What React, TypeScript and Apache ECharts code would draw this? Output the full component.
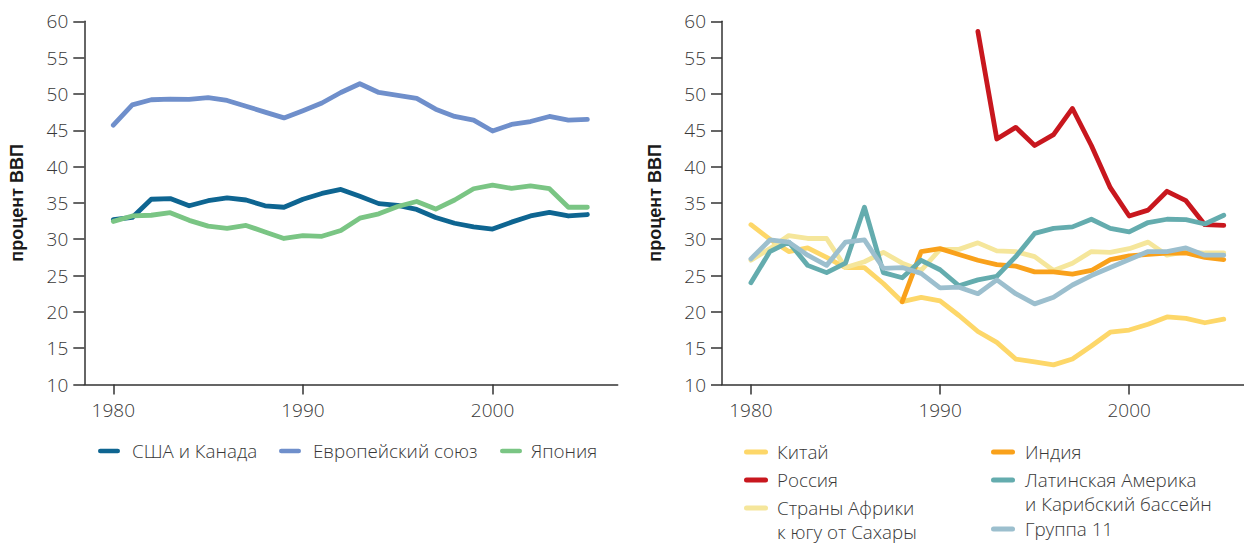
import React, { useEffect, useRef } from "react";
import * as echarts from "echarts";

const YEARS = [1980, 1981, 1982, 1983, 1984, 1985, 1986, 1987, 1988, 1989, 1990, 1991, 1992, 1993, 1994, 1995, 1996, 1997, 1998, 1999, 2000, 2001, 2002, 2003, 2004, 2005];
const X_LABELS = [1980, 1990, 2000];

// Left chart
const USA_CANADA = [32.7, 33.0, 35.5, 35.6, 34.6, 35.3, 35.7, 35.4, 34.6, 34.4, 35.5, 36.3, 36.85, 35.9, 34.9, 34.65, 34.1, 33.0, 32.2, 31.7, 31.4, 32.35, 33.2, 33.7, 33.2, 33.4];
const EU = [45.7, 48.5, 49.2, 49.3, 49.25, 49.5, 49.1, 48.3, 47.5, 46.7, 47.7, 48.75, 50.2, 51.4, 50.2, 49.8, 49.4, 47.9, 46.9, 46.4, 44.9, 45.8, 46.2, 46.9, 46.4, 46.5];
const JAPAN = [32.45, 33.2, 33.3, 33.65, 32.6, 31.8, 31.5, 31.9, 31.0, 30.1, 30.5, 30.4, 31.2, 32.9, 33.5, 34.5, 35.2, 34.15, 35.4, 36.95, 37.45, 37.0, 37.35, 36.95, 34.4, 34.4];

// Right chart
const CHINA = [32.0, 30.0, 28.3, 28.8, 27.5, 26.1, 26.1, 23.9, 21.4, 22.0, 21.5, 19.5, 17.3, 15.8, 13.5, 13.1, 12.7, 13.5, 15.3, 17.2, 17.5, 18.3, 19.3, 19.1, 18.5, 19.0];
const RUSSIA = [null, null, null, null, null, null, null, null, null, null, null, null, 58.6, 43.8, 45.4, 42.9, 44.4, 48.0, 42.9, 37.1, 33.2, 34.0, 36.6, 35.3, 32.0, 31.9];
const AFRICA = [27.1, 28.7, 30.5, 30.1, 30.1, 26.1, 26.9, 28.2, 26.7, 25.7, 28.6, 28.6, 29.5, 28.4, 28.3, 27.6, 25.7, 26.7, 28.3, 28.2, 28.7, 29.6, 27.8, 28.3, 28.1, 28.1];
const INDIA = [null, null, null, null, null, null, null, null, 21.4, 28.3, 28.7, 27.9, 27.1, 26.5, 26.3, 25.5, 25.5, 25.2, 25.7, 27.2, 27.7, 27.9, 28.1, 28.1, 27.5, 27.2];
const LATAM = [24.0, 28.3, 29.6, 26.4, 25.4, 26.7, 34.4, 25.4, 24.7, 27.1, 25.8, 23.6, 24.4, 24.9, 27.6, 30.8, 31.5, 31.7, 32.75, 31.5, 31.0, 32.3, 32.75, 32.7, 32.1, 33.3];
const G11 = [27.3, 29.9, 29.6, 27.8, 26.4, 29.6, 29.9, 26.0, 26.1, 25.3, 23.3, 23.4, 22.5, 24.4, 22.5, 21.1, 22.0, 23.7, 25.0, 26.1, 27.2, 28.3, 28.3, 28.8, 27.8, 27.8];

const Y_NAME = "процент ВВП";

const LEFT_NAMES = ["США и Канада", "Европейский союз", "Япония"];
const LEFT_COLORS = ["#0E6591", "#6F8FCB", "#7AC584"];
const LEFT_DATA = [USA_CANADA, EU, JAPAN];

const RIGHT_NAMES = ["Китай", "Россия", "Страны Африки к югу от Сахары", "Индия", "Латинская Америка и Карибский бассейн", "Группа 11"];
const RIGHT_LABELS = ["Китай", "Россия", "Страны Африки\nк югу от Сахары", "Индия", "Латинская Америка\nи Карибский бассейн", "Группа 11"];
const RIGHT_COLORS = ["#FDD769", "#C8171E", "#F5E69B", "#F9A11B", "#64ACAE", "#9CBFCE"];
const RIGHT_DATA = [CHINA, RUSSIA, AFRICA, INDIA, LATAM, G11];

const FONT = "'Open Sans', 'Noto Sans', sans-serif";
const TEXT_COLOR = "#383838";
const AXIS_COLOR = "#333333";
const LH = 25;
const LH2 = 24;
const ICON = "path://M2.5,0H21.5A2.5,2.5,0,0,1,21.5,5H2.5A2.5,2.5,0,0,1,2.5,0Z";

function pairs(vals: (number | null)[]) {
  return YEARS.map((y, i) => [y, vals[i]]);
}

function makeXAxis(gridIndex: number, max: number) {
  return {
    type: "value",
    gridIndex,
    min: 1978.47,
    max,
    axisLine: { show: true, onZero: false, lineStyle: { color: AXIS_COLOR, width: 1.5 } },
    axisTick: { show: true, length: 10, customValues: X_LABELS, lineStyle: { color: AXIS_COLOR, width: 1.5 } },
    axisLabel: { show: true, customValues: X_LABELS, margin: 16, fontSize: 19, fontFamily: FONT, fontWeight: 300, color: TEXT_COLOR, formatter: (v: number) => String(v) },
    splitLine: { show: false },
  };
}

function makeYAxis(gridIndex: number) {
  return {
    type: "value",
    gridIndex,
    min: 10,
    max: 60,
    interval: 5,
    name: Y_NAME,
    nameLocation: "middle",
    nameGap: 58,
    nameTextStyle: { fontFamily: "'Liberation Sans', Arial, sans-serif", fontWeight: "bold", fontSize: 18, color: "#1a1a1a" },
    axisLine: { show: true, onZero: false, lineStyle: { color: AXIS_COLOR, width: 1.5 } },
    axisTick: { show: true, length: 11, lineStyle: { color: AXIS_COLOR, width: 1.5 } },
    axisLabel: { margin: 16, fontSize: 19, fontFamily: FONT, fontWeight: 300, color: TEXT_COLOR },
    splitLine: { show: false },
  };
}

function lineSeries(name: string, color: string, vals: (number | null)[], axisIndex: number) {
  return {
    type: "line",
    name,
    xAxisIndex: axisIndex,
    yAxisIndex: axisIndex,
    data: pairs(vals),
    showSymbol: false,
    symbol: "none",
    color,
    lineStyle: { color, width: 4.8, cap: "round", join: "round" },
    itemStyle: { color },
  };
}

function legendItem(name: string, label: string, left: number, centerY: number, itemWidth: number, gap: number) {
  const twoLine = label.indexOf("\n") >= 0;
  const shown = twoLine ? "\n" + label : label;
  const lh = twoLine ? LH2 : LH;
  return {
    data: [name],
    left,
    top: twoLine ? centerY - lh * 1.5 : centerY - lh / 2,
    orient: "vertical",
    padding: 0,
    itemGap: 0,
    itemWidth,
    itemHeight: 5,
    itemStyle: { borderWidth: 0 },
    icon: ICON,
    selectedMode: false,
    formatter: () => shown,
    textStyle: {
      fontSize: 18.8,
      fontFamily: FONT,
      fontWeight: 300,
      color: TEXT_COLOR,
      lineHeight: lh,
      padding: [0, 0, 0, gap],
      backgroundColor: "rgba(255,255,255,0)",
    },
  };
}

export default function App() {
  const ref = useRef<HTMLDivElement>(null);
  useEffect(() => {
    if (!ref.current) return;
    const chart = echarts.init(ref.current, null, { renderer: "svg" });
    const series: any[] = [];
    LEFT_NAMES.forEach((n, i) => series.push(lineSeries(n, LEFT_COLORS[i], LEFT_DATA[i], 0)));
    RIGHT_NAMES.forEach((n, i) => series.push(lineSeries(n, RIGHT_COLORS[i], RIGHT_DATA[i], 1)));

    const legends = [
      legendItem(LEFT_NAMES[0], LEFT_NAMES[0], 98, 451, 22, 7),
      legendItem(LEFT_NAMES[1], LEFT_NAMES[1], 279, 451, 22, 7),
      legendItem(LEFT_NAMES[2], LEFT_NAMES[2], 500, 451, 22, 4),
      legendItem(RIGHT_NAMES[0], RIGHT_LABELS[0], 744, 452, 24, 4),
      legendItem(RIGHT_NAMES[1], RIGHT_LABELS[1], 744, 480, 24, 4),
      legendItem(RIGHT_NAMES[2], RIGHT_LABELS[2], 744, 508, 24, 4),
      legendItem(RIGHT_NAMES[3], RIGHT_LABELS[3], 991, 452, 24, 5),
      legendItem(RIGHT_NAMES[4], RIGHT_LABELS[4], 991, 480, 24, 5),
      legendItem(RIGHT_NAMES[5], RIGHT_LABELS[5], 991, 529, 24, 5),
    ];

    chart.setOption({
      animation: false,
      backgroundColor: "#ffffff",
      grid: [
        { left: 84.3, right: 1244 - 617.7, top: 21.3, bottom: 544 - 384.5 },
        { left: 722, right: 0, top: 21.3, bottom: 544 - 384.5 },
      ],
      xAxis: [makeXAxis(0, 2006.6), makeXAxis(1, 2006.07)],
      yAxis: [makeYAxis(0), makeYAxis(1)],
      legend: legends,
      series,
    });
    return () => chart.dispose();
  }, []);
  return <div ref={ref} style={{ position: "absolute", left: 0, top: 0, width: 1244, height: 544 }} />;
}
